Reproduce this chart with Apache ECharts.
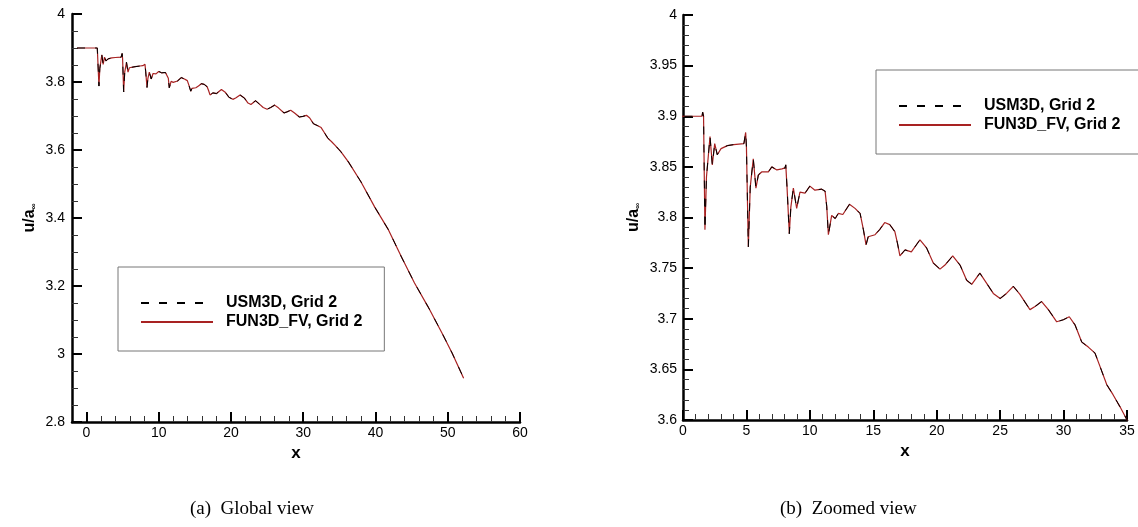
<!DOCTYPE html>
<html>
<head>
<meta charset="utf-8">
<script src="https://cdn.jsdelivr.net/npm/echarts@6/dist/echarts.min.js"></script>
<style>
  html, body { margin: 0; padding: 0; background: #fff; }
  #chart { width: 1138px; height: 527px; }
</style>
</head>
<body>
<div id="chart"></div>
<script>
// --- data ---
const xPos = [
  -1.3, 1.5, 1.55, 1.62, 1.73, 1.85, 2.13, 2.31, 2.5, 2.7, 3.0, 3.5, 4.0, 4.8, 4.94, 5.0, 5.15, 5.3,
  5.54, 5.75, 5.94, 6.2, 6.73, 7.0, 7.4, 7.8, 8.04, 8.1, 8.2, 8.38, 8.5, 8.7, 8.96, 9.22, 9.62, 10.0,
  10.4, 10.93, 11.2, 11.33, 11.46, 11.72, 12.0, 12.24, 12.6, 13.12, 13.56, 13.96, 14.22, 14.43, 14.6,
  15.14, 15.5, 15.9, 16.3, 16.7, 16.9, 17.1, 17.5, 18.0, 18.68, 19.2, 19.73, 20.26, 20.65, 21.26,
  21.84, 22.36, 22.76, 23.4, 23.94, 24.46, 25.0, 25.5, 26.04, 26.56, 27.35, 27.75, 28.27, 28.8,
  29.46, 29.98, 30.45, 30.9, 31.43, 31.95, 32.48, 32.87, 33.4, 33.9, 34.45, 34.92, 35.2, 36.25,
  38.0, 39.9, 41.8, 43.6, 45.4, 47.3, 49.2, 50.6, 52.2
];
const fun3dFV = [
  3.9, 3.9, 3.904, 3.9, 3.788, 3.84, 3.880, 3.852, 3.873, 3.862, 3.868, 3.871, 3.872, 3.873, 3.884, 3.87, 3.771, 3.83,
  3.858, 3.829, 3.842, 3.845, 3.845, 3.850, 3.847, 3.848, 3.849, 3.852, 3.83, 3.784, 3.81, 3.829, 3.809, 3.825, 3.824, 3.831,
  3.827, 3.828, 3.826, 3.811, 3.783, 3.802, 3.799, 3.804, 3.803, 3.813, 3.809, 3.804, 3.788, 3.773, 3.781,
  3.783, 3.788, 3.795, 3.793, 3.786, 3.775, 3.762, 3.768, 3.766, 3.778, 3.770, 3.755, 3.749, 3.753, 3.762,
  3.753, 3.738, 3.734, 3.745, 3.735, 3.725, 3.720, 3.725, 3.732, 3.724, 3.709, 3.712, 3.717, 3.709,
  3.697, 3.699, 3.702, 3.694, 3.677, 3.672, 3.666, 3.653, 3.635, 3.625, 3.613, 3.602, 3.595, 3.565,
  3.506, 3.432, 3.365, 3.285, 3.209, 3.138, 3.062, 3.003, 2.929
];
// the two solvers lie on top of each other in the plot
const usm3d = fun3dFV.slice();

const seriesNames = ['USM3D, Grid 2', 'FUN3D_FV, Grid 2'];
const leftXTicks = [0, 10, 20, 30, 40, 50, 60];
const leftXMinor = [2, 4, 6, 8, 12, 14, 16, 18, 22, 24, 26, 28, 32, 34, 36, 38, 42, 44, 46, 48, 52, 54, 56, 58];
const captions = ['(a)  Global view', '(b)  Zoomed view'];

const FONT = '"Liberation Sans", Arial, sans-serif';
const RED = '#a82222';

const pairs = (ys) => xPos.map((x, i) => [x, ys[i]]);

const chart = echarts.init(document.getElementById('chart'));

// 坐标轴公共样式
const axisBase = (extra) => Object.assign({
  type: 'value',
  axisLine: { show: true, onZero: false, lineStyle: { color: '#000', width: 2.5 } },
  axisTick: { show: true, inside: true, length: 10, lineStyle: { color: '#000', width: 2 } },
  axisLabel: { color: '#000', fontFamily: FONT, fontSize: 14 },
  splitLine: { show: false },
  nameTextStyle: { color: '#000', fontFamily: FONT, fontSize: 17, fontWeight: 'bold' }
}, extra);

const minor = (n) => ({ show: true, splitNumber: n, length: 6, lineStyle: { color: '#333', width: 1 } });

const yName = 'u/a{s|∞}';
const yNameStyle = {
  color: '#000', fontFamily: FONT, fontSize: 16, fontWeight: 'bold',
  rich: { s: { fontSize: 8, fontFamily: FONT, color: '#000', padding: [0, 0, -8, 0] } }
};

const legendBase = (left, top) => ({
  orient: 'vertical',
  left: left,
  top: top,
  data: seriesNames,
  padding: [28, 22, 21, 22],
  itemGap: 3,
  itemWidth: 72,
  itemHeight: 14,
  borderColor: '#777',
  borderWidth: 1,
  selectedMode: false,
  itemStyle: { color: 'transparent', borderColor: 'transparent', borderWidth: 0 },
  textStyle: { color: '#000', fontFamily: FONT, fontSize: 16, fontWeight: 'bold', padding: [0, 0, 0, 8] }
});

const lineSeries = (name, ys, idx) => ({
  name: name,
  type: 'line',
  xAxisIndex: idx,
  yAxisIndex: idx,
  data: pairs(ys),
  symbol: 'none',
  clip: true,
  lineStyle: name === seriesNames[0]
    ? { color: '#000', width: 1, type: [8, 10] }
    : { color: RED, width: 1.2 },
  itemStyle: { color: name === seriesNames[0] ? '#000' : RED }
});

chart.setOption({
  animation: false,
  backgroundColor: '#fff',
  grid: [
    { left: 72, top: 14, width: 448, height: 408, outerBoundsMode: 'none' },
    { left: 683, top: 15, width: 444, height: 405, outerBoundsMode: 'none' }
  ],
  xAxis: [
    axisBase({
      gridIndex: 0, min: -2, max: 60,
      name: 'x', nameLocation: 'middle', nameGap: 21,
      axisTick: { show: true, inside: true, length: 10, customValues: leftXTicks, lineStyle: { color: '#000', width: 2 } },
      axisLabel: { color: '#000', fontFamily: FONT, fontSize: 14, margin: 4, customValues: leftXTicks }
    }),
    axisBase({
      gridIndex: 1, min: 0, max: 35, interval: 5,
      name: 'x', nameLocation: 'middle', nameGap: 21,
      axisLabel: { color: '#000', fontFamily: FONT, fontSize: 14, margin: 4 },
      minorTick: minor(5)
    }),
    // minor ticks of the left x axis
    {
      type: 'value', gridIndex: 0, min: -2, max: 60, position: 'bottom',
      axisLine: { show: false },
      axisLabel: { show: false },
      splitLine: { show: false },
      axisTick: { show: true, inside: true, length: 6, customValues: leftXMinor, lineStyle: { color: '#333', width: 1 } }
    }
  ],
  yAxis: [
    axisBase({
      gridIndex: 0, min: 2.8, max: 4, interval: 0.2,
      name: yName, nameLocation: 'middle', nameRotate: 90, nameGap: 34, nameTextStyle: yNameStyle,
      axisLabel: { color: '#000', fontFamily: FONT, fontSize: 14, margin: 7 },
      minorTick: minor(4)
    }),
    axisBase({
      gridIndex: 1, min: 3.6, max: 4, interval: 0.05,
      name: yName, nameLocation: 'middle', nameRotate: 90, nameGap: 41, nameTextStyle: yNameStyle,
      axisLabel: { color: '#000', fontFamily: FONT, fontSize: 14, margin: 6 },
      minorTick: minor(5)
    })
  ],
  legend: [legendBase(118, 267), legendBase(876, 70)],
  series: [
    lineSeries(seriesNames[1], fun3dFV, 0),
    lineSeries(seriesNames[0], usm3d, 0),
    lineSeries(seriesNames[1], fun3dFV, 1),
    lineSeries(seriesNames[0], usm3d, 1)
  ],
  graphic: [
    { type: 'text', left: 190, top: 500, style: { text: captions[0], font: '19px "Liberation Serif", "Times New Roman", serif', fill: '#000' } },
    { type: 'text', left: 780, top: 500, style: { text: captions[1], font: '19px "Liberation Serif", "Times New Roman", serif', fill: '#000' } }
  ]
});
</script>
</body>
</html>
